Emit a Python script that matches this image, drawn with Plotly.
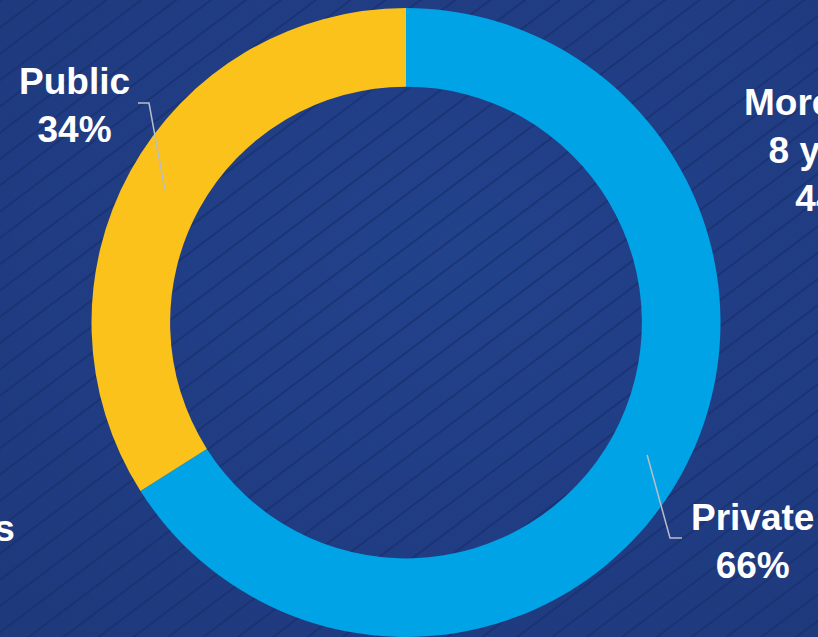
import base64
import math
import plotly.graph_objects as go

# ---- data ----
labels = ["Private", "Public"]
values = [66, 34]
slice_colors = ["#00A3E6", "#FBC21B"]

side_texts = ["More than<br>8 years<br>44%", "years"]

W, H = 818, 637

# ---- background: navy with subtle glow and diagonal stripes ----
svg = f'''<svg xmlns="http://www.w3.org/2000/svg" width="{W}" height="{H}">
<defs>
<radialGradient id="g" cx="55%" cy="40%" r="75%">
<stop offset="0%" stop-color="#22428C"/>
<stop offset="100%" stop-color="#1F397D"/>
</radialGradient>
<pattern id="p" patternUnits="userSpaceOnUse" width="200" height="21" patternTransform="rotate(-37)">
<line x1="0" y1="1" x2="200" y2="1" stroke="#18306E" stroke-opacity="0.75" stroke-width="2"/>
</pattern>
</defs>
<rect width="{W}" height="{H}" fill="url(#g)"/>
<rect width="{W}" height="{H}" fill="url(#p)"/>
</svg>'''
bg_uri = "data:image/svg+xml;base64," + base64.b64encode(svg.encode()).decode()


def px(x):
    return x / W


def py(y):
    return 1 - y / H


# pie geometry (pixels)
cx, cy, R = 406, 322.5, 314.5
hole = 0.75

fig = go.Figure(
    go.Pie(
        labels=labels,
        values=values,
        sort=False,
        direction="clockwise",
        rotation=0,
        hole=hole,
        marker=dict(colors=slice_colors, line=dict(width=0)),
        textinfo="none",
        hoverinfo="label+percent",
        showlegend=False,
        domain=dict(x=[px(cx - R), px(cx + R)], y=[0, py(cy - R)]),
    )
)

# leader lines computed from slice mid-angles (clockwise from 12 o'clock)
total = sum(values)
rmid = R * (1 + hole) / 2
elbows = {"Public": [(149, 103), (138, 103)], "Private": [(670, 538), (682, 538)]}
label_pos = {"Public": (74, 106), "Private": (752, 541)}

start = 0.0
shapes = []
annotations = []
for lab, val in zip(labels, values):
    frac = val / total
    mid = start + frac / 2
    start += frac
    ang = 2 * math.pi * mid
    ax = cx + rmid * math.sin(ang)
    ay = cy - rmid * math.cos(ang)
    pts = [(ax, ay)] + elbows[lab]
    path = "M " + " L ".join(f"{px(x):.5f},{py(y):.5f}" for x, y in pts)
    shapes.append(dict(type="path", xref="paper", yref="paper", path=path,
                       line=dict(color="#B8BEC8", width=1.5)))
    lx, ly = label_pos[lab]
    annotations.append(dict(
        x=px(lx), y=py(ly), xref="paper", yref="paper",
        text=f"<b>{lab}<br>{val}%</b>", showarrow=False,
        xanchor="center", yanchor="middle", align="center",
        font=dict(family="Liberation Sans, Arial", size=37, color="white"),
    ))

# text that runs off the page edges, as in the reference
annotations.append(dict(
    x=px(832), y=py(150), xref="paper", yref="paper",
    text=f"<b>{side_texts[0]}</b>", showarrow=False,
    xanchor="center", yanchor="middle", align="center",
    font=dict(family="Liberation Sans, Arial", size=37, color="white"),
))
annotations.append(dict(
    x=px(17), y=py(528), xref="paper", yref="paper",
    text=f"<b>{side_texts[1]}</b>", showarrow=False,
    xanchor="right", yanchor="middle", align="right",
    font=dict(family="Liberation Sans, Arial", size=37, color="white"),
))

fig.update_layout(
    width=W, height=H,
    margin=dict(l=0, r=0, t=0, b=0),
    paper_bgcolor="#213D86",
    plot_bgcolor="rgba(0,0,0,0)",
    images=[dict(source=bg_uri, xref="paper", yref="paper", x=0, y=1,
                 sizex=1, sizey=1, sizing="stretch", layer="below",
                 xanchor="left", yanchor="top")],
    shapes=shapes,
    annotations=annotations,
)

fig.write_html("out.html")
